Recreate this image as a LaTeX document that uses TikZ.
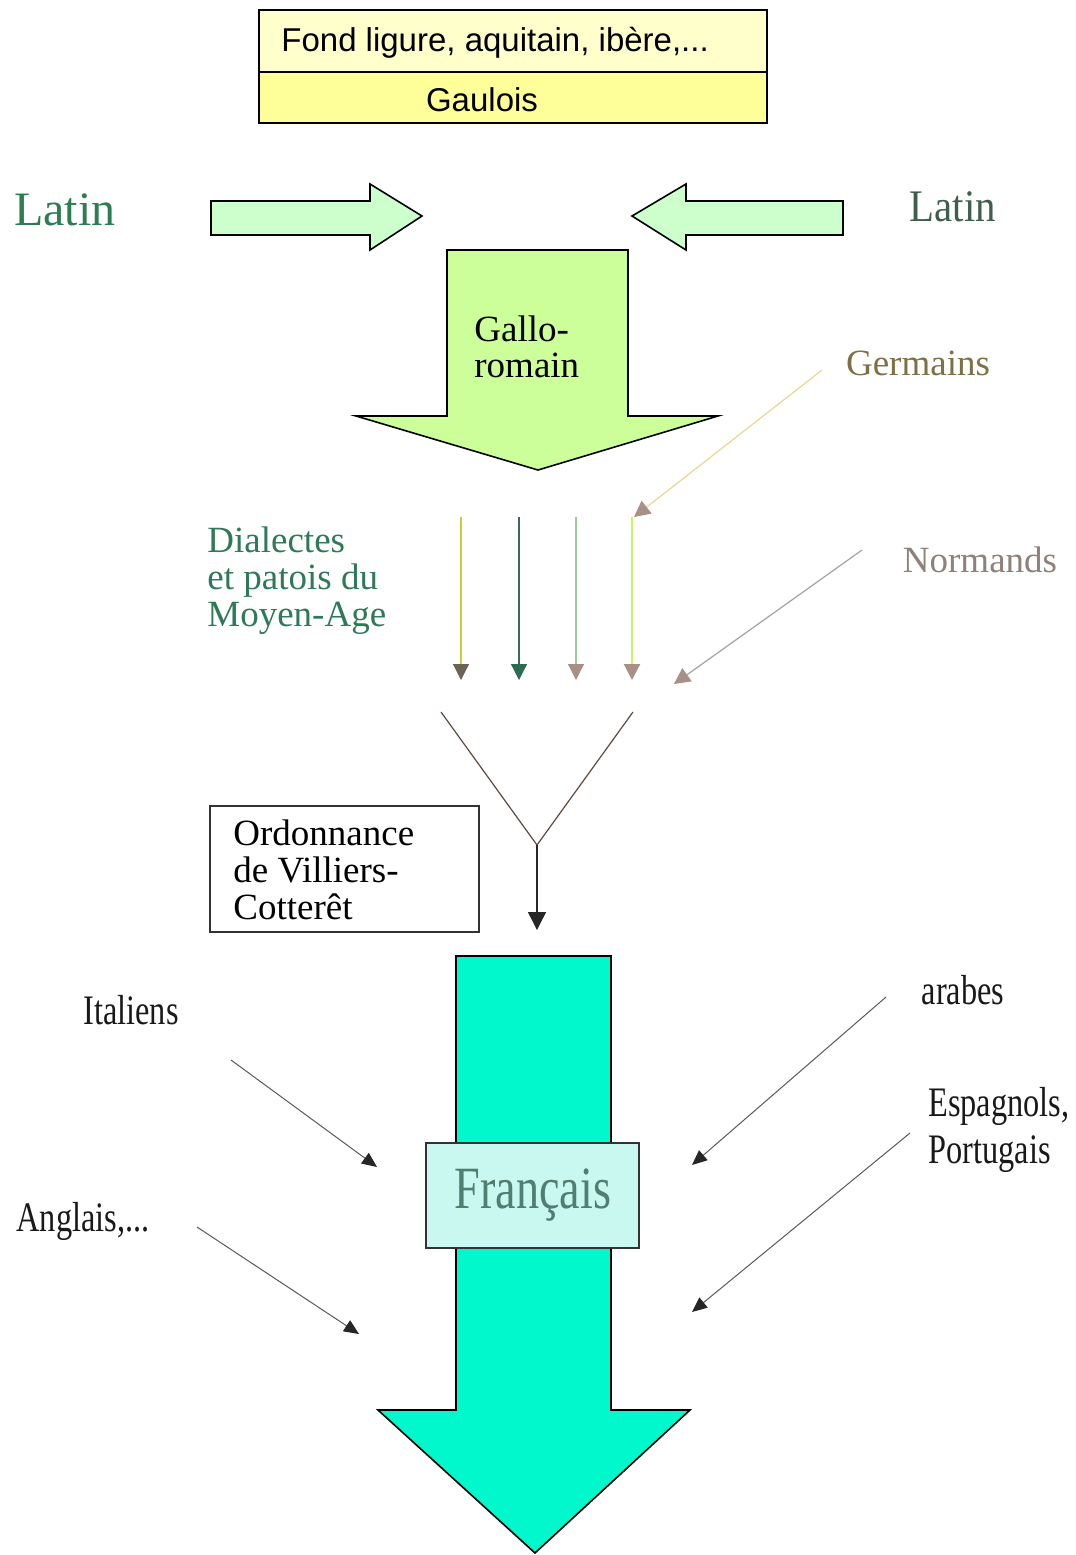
\documentclass[tikz,border=0pt]{standalone}
\usepackage{fontspec}
\setmainfont{Liberation Serif}
\setsansfont{Liberation Sans}
\usetikzlibrary{arrows.meta}
\definecolor{topA}{HTML}{FFFFCC}
\definecolor{topB}{HTML}{FFFF99}
\definecolor{latinfill}{HTML}{CCFFCC}
\definecolor{gallofill}{HTML}{CCFF99}
\definecolor{frfill}{HTML}{00F8CC}
\definecolor{frbox}{HTML}{C8F8F0}
\definecolor{latinL}{HTML}{2E7D52}
\definecolor{latinR}{HTML}{3F5E4E}
\definecolor{dialc}{HTML}{2E7A58}
\definecolor{germc}{HTML}{7D7044}
\definecolor{normc}{HTML}{8E817A}
\definecolor{frtext}{HTML}{4F7F70}
\definecolor{taupe}{HTML}{A89086}
\definecolor{lineA}{HTML}{CCCC33}
\definecolor{tipA}{HTML}{6B6356}
\definecolor{lineB}{HTML}{3A6A58}
\definecolor{tipB}{HTML}{2E6B55}
\definecolor{lineC}{HTML}{99CC99}
\definecolor{lineD}{HTML}{CCF066}
\definecolor{germline}{HTML}{E6D890}
\definecolor{normline}{HTML}{A8A0A0}
\definecolor{funnel}{HTML}{5A4A40}
\tikzset{
  blockarrow/.style={draw=black, line width=0.8pt, line join=miter},
  toplabel/.style={font=\sffamily\fontsize{16.5}{18}\selectfont, inner sep=0pt},
  topbox/.style={draw=black, line width=0.8pt, minimum width=254pt, inner sep=0pt, outer sep=0pt},
  seriflab/.style={font=\fontsize{18.5}{18.5}\selectfont, inner sep=0pt, align=left},
  narrowlab/.style={font=\fontsize{21}{23.5}\selectfont, inner sep=0pt, align=left, text=black!90},
  vtip/.style={-{Triangle[length=8pt,width=8pt,color=#1]}},
  smallarrow/.style={draw=black!65, line width=0.5pt, -{Triangle[length=7.5pt,width=6.5pt,color=black!85]}},
}
\begin{document}
\begin{tikzpicture}[x=0.5pt,y=-0.5pt]
\useasboundingbox (0,0) rectangle (1076,1555);

% top boxes
\node[topbox, fill=topA, minimum height=31pt] (fond) at (513,41) {};
\node[topbox, fill=topB, minimum height=25.5pt] (gaul) at (513,97.5) {};
\node[toplabel, anchor=west] (fondt) at (281,43) {Fond ligure, aquitain, ibère,...};
\node[toplabel] (gault) at (482,100) {Gaulois};

% Latin arrows
\filldraw[blockarrow, fill=latinfill] (211,201) -- (370,201) -- (370,184) -- (422,216) -- (370,250) -- (370,235) -- (211,235) -- cycle;
\filldraw[blockarrow, fill=latinfill] (843,201) -- (686,201) -- (686,184) -- (632,216) -- (686,250) -- (686,235) -- (843,235) -- cycle;
\node[font=\fontsize{24}{24}\selectfont, text=latinL, inner sep=0pt] (latinl) at (65,210) {Latin};
\node[font=\fontsize{21.5}{21.5}\selectfont, text=latinR, inner sep=0pt] (latinr) at (953,207) {\scalebox{0.95}[1.05]{Latin}};

% Gallo-romain arrow
\filldraw[blockarrow, fill=gallofill] (447,250) -- (628,250) -- (628,416) -- (718,416) -- (538,470) -- (356,416) -- (447,416) -- cycle;
\node[font=\fontsize{18.5}{18}\selectfont, inner sep=0pt, align=left, anchor=north west] (gallo) at (474,315) {Gallo-\\romain};

% Germains / Normands labels
\node[seriflab, text=germc] (germ) at (918,363) {Germains};
\node[seriflab, text=normc] (norm) at (980,560) {Normands};
\node[seriflab, text=dialc, font=\fontsize{18.5}{18.5}\selectfont, anchor=north west] (dial) at (207,526) {Dialectes\\et patois du\\Moyen-Age};

% dialect arrows
\coordinate (d1s) at (461,517); \coordinate (d1e) at (461,680);
\coordinate (d2s) at (519,517); \coordinate (d2e) at (519,680);
\coordinate (d3s) at (576,517); \coordinate (d3e) at (576,680);
\coordinate (d4s) at (632,517); \coordinate (d4e) at (632,680);
\draw[lineA, line width=0.6pt, vtip=tipA] (d1s) -- (d1e);
\draw[lineB, line width=0.6pt, vtip=tipB] (d2s) -- (d2e);
\draw[lineC, line width=0.6pt, vtip=taupe] (d3s) -- (d3e);
\draw[lineD, line width=1pt, vtip=taupe] (d4s) -- (d4e);
\coordinate (gs) at (822,370); \coordinate (ge) at (634,517);
\draw[germline, line width=0.6pt, vtip=taupe] (gs) -- (ge);
\coordinate (ns) at (862,550); \coordinate (ne) at (674,684);
\draw[normline, line width=0.6pt, vtip=taupe] (ns) -- (ne);

% funnel
\coordinate (fl) at (441,712); \coordinate (fr) at (633,712);
\coordinate (fm) at (537,845); \coordinate (fe) at (537,930);
\draw[funnel, line width=0.6pt] (fl) -- (fm) -- (fr);
\draw[black!85, line width=0.7pt, -{Triangle[length=9pt,width=9pt,color=black!85]}] (fm) -- (fe);

% Ordonnance box
\node[draw=black!80, line width=0.8pt, minimum width=134.5pt, minimum height=63pt, inner sep=0pt] (ordbox) at (344.5,869) {};
\node[seriflab, font=\fontsize{18.5}{18.5}\selectfont, anchor=north west] (ord) at (233,819) {Ordonnance\\de Villiers-\\Cotterêt};

% Francais arrow
\filldraw[blockarrow, fill=frfill] (456,956) -- (611,956) -- (611,1410) -- (690,1410) -- (535,1553) -- (378,1410) -- (456,1410) -- cycle;
\node[draw=black!80, line width=0.8pt, fill=frbox, minimum width=106.5pt, minimum height=52.5pt, inner sep=0pt] (frb) at (532.5,1195.5) {};
\node[font=\fontsize{30}{30}\selectfont, text=frtext, inner sep=0pt] (frt) at (533,1195) {\scalebox{0.77}[1]{Français}};

% influences
\node[narrowlab] (ital) at (131,1010) {\scalebox{0.77}[1]{Italiens}};
\node[narrowlab] (arab) at (963,990) {\scalebox{0.77}[1]{arabes}};
\node[narrowlab, anchor=north west] (esp) at (928,1087) {\scalebox{0.77}[1]{Espagnols,}\\\scalebox{0.77}[1]{Portugais}};
\node[narrowlab] (angl) at (83,1221) {\scalebox{0.77}[1]{Anglais,...}};

\coordinate (is) at (231,1060); \coordinate (ie) at (377,1167);
\coordinate (as) at (886,997);  \coordinate (ae) at (692,1165);
\coordinate (es) at (910,1133); \coordinate (ee) at (692,1312);
\coordinate (ns2) at (197,1227); \coordinate (ne2) at (359,1334);
\draw[smallarrow] (is) -- (ie);
\draw[smallarrow] (as) -- (ae);
\draw[smallarrow] (es) -- (ee);
\draw[smallarrow] (ns2) -- (ne2);
\end{tikzpicture}
\end{document}
